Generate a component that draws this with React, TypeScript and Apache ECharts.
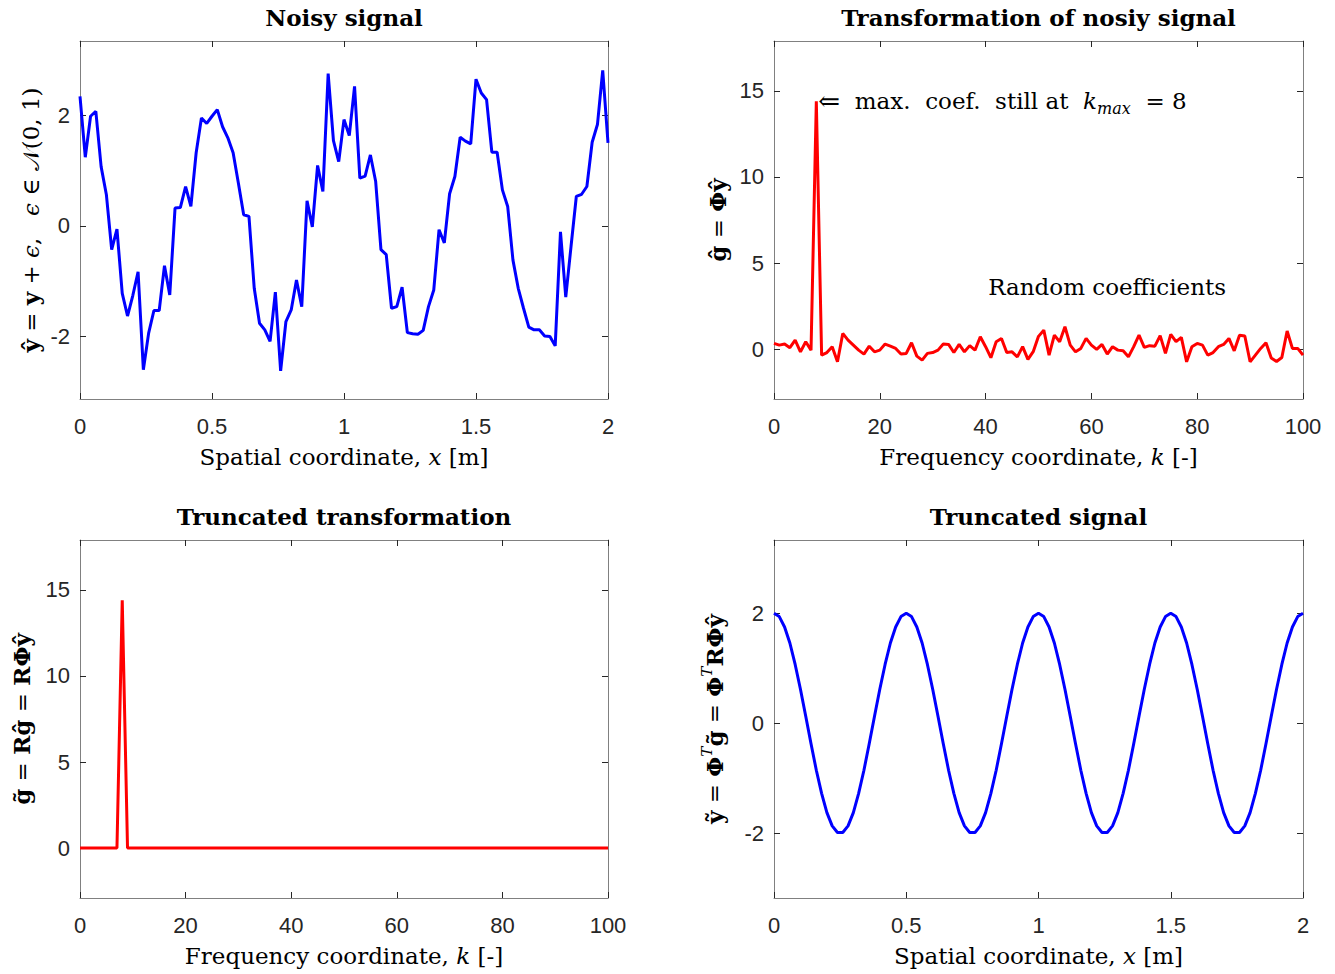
import React, { useEffect, useRef } from "react";
import * as echarts from "echarts";

// ---------- data ----------
// Noisy signal samples, x = 0 ... 2 (step 0.02)
const noisySignal = [
  2.34, 1.24, 1.98, 2.07, 1.07, 0.56, -0.43, -0.06, -1.22, -1.63,
  -1.26, -0.83, -2.6, -1.94, -1.53, -1.53, -0.72, -1.25, 0.32, 0.33,
  0.71, 0.35, 1.32, 1.95, 1.85, 1.98, 2.1, 1.79, 1.59, 1.32,
  0.77, 0.2, 0.17, -1.13, -1.76, -1.88, -2.09, -1.2, -2.62, -1.73,
  -1.52, -0.98, -1.46, 0.45, -0.02, 1.09, 0.62, 2.75, 1.54, 1.16,
  1.92, 1.63, 2.52, 0.86, 0.9, 1.28, 0.8, -0.43, -0.52, -1.49,
  -1.46, -1.11, -1.93, -1.95, -1.96, -1.89, -1.46, -1.16, -0.07, -0.31,
  0.58, 0.89, 1.6, 1.53, 1.48, 2.65, 2.4, 2.28, 1.33, 1.33,
  0.65, 0.35, -0.62, -1.13, -1.49, -1.83, -1.88, -1.88, -1.99, -2.0,
  -2.17, -0.11, -1.29, -0.37, 0.53, 0.57, 0.71, 1.51, 1.83, 2.81, 1.5,
];

// Transformation coefficients, k = 0 ... 100
const coefficients = [
  0.33, 0.23, 0.29, 0.08, 0.52, -0.16, 0.43, -0.06, 14.4, -0.35,
  -0.2, 0.14, -0.74, 0.91, 0.52, 0.23, -0.06, -0.29, 0.17, -0.16,
  -0.06, 0.29, 0.17, 0.04, -0.29, -0.25, 0.37, -0.41, -0.64, -0.25,
  -0.2, -0.06, 0.29, 0.27, -0.2, 0.27, -0.16, 0.2, -0.06, 0.72,
  0.14, -0.5, 0.43, 0.62, -0.2, -0.16, -0.45, 0.14, -0.6, -0.15,
  0.74, 1.1, -0.35, 0.81, 0.43, 1.3, 0.23, -0.16, 0.04, 0.62,
  0.23, -0.02, 0.27, -0.29, 0.14, -0.06, -0.1, -0.45, 0.14, 0.81,
  0.1, 0.2, 0.17, 0.78, -0.25, 0.85, 0.43, 0.68, -0.74, 0.14,
  0.33, 0.23, -0.35, -0.2, 0.14, 0.27, 0.62, -0.1, 0.81, 0.76,
  -0.74, -0.35, 0.04, 0.37, -0.52, -0.72, -0.49, 1.05, 0.04, 0.04, -0.35,
];

// Truncated coefficients, k = 0 ... 100
const truncatedCoefficients = [
  0, 0, 0, 0, 0, 0, 0, 0, 14.4, 0,
  0, 0, 0, 0, 0, 0, 0, 0, 0, 0,
  0, 0, 0, 0, 0, 0, 0, 0, 0, 0,
  0, 0, 0, 0, 0, 0, 0, 0, 0, 0,
  0, 0, 0, 0, 0, 0, 0, 0, 0, 0,
  0, 0, 0, 0, 0, 0, 0, 0, 0, 0,
  0, 0, 0, 0, 0, 0, 0, 0, 0, 0,
  0, 0, 0, 0, 0, 0, 0, 0, 0, 0,
  0, 0, 0, 0, 0, 0, 0, 0, 0, 0,
  0, 0, 0, 0, 0, 0, 0, 0, 0, 0, 0,
];

// Truncated (reconstructed) signal, x = 0 ... 2 (step 0.02)
const truncatedSignal = [
  2, 1.94, 1.75, 1.46, 1.07, 0.62, 0.13, -0.37, -0.85, -1.27,
  -1.62, -1.86, -1.98, -1.98, -1.86, -1.62, -1.27, -0.85, -0.37, 0.13,
  0.62, 1.07, 1.46, 1.75, 1.94,
  2, 1.94, 1.75, 1.46, 1.07, 0.62, 0.13, -0.37, -0.85, -1.27,
  -1.62, -1.86, -1.98, -1.98, -1.86, -1.62, -1.27, -0.85, -0.37, 0.13,
  0.62, 1.07, 1.46, 1.75, 1.94,
  2, 1.94, 1.75, 1.46, 1.07, 0.62, 0.13, -0.37, -0.85, -1.27,
  -1.62, -1.86, -1.98, -1.98, -1.86, -1.62, -1.27, -0.85, -0.37, 0.13,
  0.62, 1.07, 1.46, 1.75, 1.94,
  2, 1.94, 1.75, 1.46, 1.07, 0.62, 0.13, -0.37, -0.85, -1.27,
  -1.62, -1.86, -1.98, -1.98, -1.86, -1.62, -1.27, -0.85, -0.37, 0.13,
  0.62, 1.07, 1.46, 1.75, 1.94,
  2,
];

const signalTicks = [-2, 0, 2];
const coefTicks = [0, 5, 10, 15];
const spatialStep = 0.02;

const titles = [
  "Noisy signal",
  "Transformation of nosiy signal",
  "Truncated transformation",
  "Truncated signal",
];

const peakAnnotation = { k: 8, value: 14.4 };
const randomAnnotation = { k: 40.3, value: 3.6 };

// ---------- styling ----------
const SERIF = "DejaVu Serif";
const SANS = "Liberation Sans";
const AX_COLOR = "#808080";
const TICK_COLOR = "#262626";
const NAME_SIZE = 23;

const rich = {
  b: { fontFamily: SERIF, fontSize: NAME_SIZE, fontWeight: "bold", color: "#000" },
  i: { fontFamily: SERIF, fontSize: NAME_SIZE, fontStyle: "italic", color: "#000" },
  arr: { fontFamily: SERIF, fontSize: 26, color: "#000" },
  sup: { fontFamily: SERIF, fontSize: 15, fontStyle: "italic", color: "#000", verticalAlign: "top", lineHeight: 30 },
  sub: { fontFamily: SERIF, fontSize: 16, fontStyle: "italic", color: "#000", verticalAlign: "bottom", lineHeight: 30 },
};

const nameStyle = {
  fontFamily: SERIF,
  fontSize: NAME_SIZE,
  color: "#000",
  rich,
};

function xAxes(gi: number, min: number, max: number, interval: number, name: string) {
  const common = {
    gridIndex: gi,
    type: "value",
    min,
    max,
    interval,
    splitLine: { show: false },
    axisLine: { show: true, onZero: false, lineStyle: { color: AX_COLOR, width: 1 } },
    axisTick: { show: true, inside: true, length: 6, lineStyle: { color: TICK_COLOR, width: 1 } },
  };
  return [
    {
      ...common,
      position: "bottom",
      axisLabel: { fontFamily: SANS, fontSize: 22, color: TICK_COLOR, margin: 16 },
      name,
      nameLocation: "middle",
      nameGap: 46,
      nameTextStyle: nameStyle,
    },
    { ...common, position: "top", axisLabel: { show: false } },
  ];
}

function yAxes(gi: number, min: number, max: number, ticks: number[], name: string, nameGap: number) {
  const common = {
    gridIndex: gi,
    type: "value",
    min,
    max,
    splitLine: { show: false },
    axisLine: { show: true, onZero: false, lineStyle: { color: AX_COLOR, width: 1 } },
    axisTick: { show: true, inside: true, length: 6, customValues: ticks, lineStyle: { color: TICK_COLOR, width: 1 } },
  };
  return [
    {
      ...common,
      position: "left",
      axisLabel: { fontFamily: SANS, fontSize: 22, color: TICK_COLOR, margin: 10, customValues: ticks },
      name,
      nameLocation: "middle",
      nameRotate: 90,
      nameGap,
      nameTextStyle: nameStyle,
    },
    { ...common, position: "right", axisLabel: { show: false, customValues: ticks } },
  ];
}

const grids = [
  { left: 80, top: 41, width: 528, height: 358 },
  { left: 774, top: 41, width: 529, height: 358 },
  { left: 80, top: 540, width: 528, height: 358 },
  { left: 774, top: 540, width: 529, height: 358 },
];

export default function App() {
  const ref = useRef<HTMLDivElement>(null);

  useEffect(() => {
    if (!ref.current) return;
    const chart = echarts.init(ref.current, undefined, { renderer: "svg" });

    const spatialData = (vals: number[]) => vals.map((v, i) => [i * spatialStep, v]);
    const freqData = (vals: number[]) => vals.map((v, k) => [k, v]);

    const xAxis = [
      ...xAxes(0, 0, 2, 0.5, "Spatial coordinate, {i|x} [m]"),
      ...xAxes(1, 0, 100, 20, "Frequency coordinate, {i|k} [-]"),
      ...xAxes(2, 0, 100, 20, "Frequency coordinate, {i|k} [-]"),
      ...xAxes(3, 0, 2, 0.5, "Spatial coordinate, {i|x} [m]"),
    ];
    const yAxis = [
      ...yAxes(0, -3.13, 3.34, signalTicks, "{b|ŷ} = {b|y} + {i|ϵ},   {i|ϵ} ∈ 𝒩(0, 1)", 38),
      ...yAxes(1, -2.9, 17.9, coefTicks, "{b|ĝ} = {b|Φŷ}", 45),
      ...yAxes(2, -2.9, 17.9, coefTicks, "{b|g̃} = {b|Rĝ} = {b|RΦŷ}", 47),
      ...yAxes(3, -3.17, 3.33, signalTicks, "{b|ỹ} = {b|Φ}{sup|T}{b|g̃} = {b|Φ}{sup|T}{b|RΦŷ}", 45),
    ];

    const line = (idx: number, data: number[][], color: string) => ({
      type: "line",
      xAxisIndex: idx * 2,
      yAxisIndex: idx * 2,
      data,
      showSymbol: false,
      symbol: "none",
      lineStyle: { color, width: 3 },
      silent: true,
    });

    const textPoint = (idx: number, pt: number[], text: string, distance: number) => ({
      type: "scatter",
      xAxisIndex: idx * 2,
      yAxisIndex: idx * 2,
      symbol: "circle",
      symbolSize: 2,
      itemStyle: { color: "rgba(0,0,0,0)" },
      data: [pt],
      silent: true,
      z: 10,
      labelLayout: { hideOverlap: false },
      label: {
        show: true,
        position: "right",
        distance,
        formatter: text,
        fontFamily: SERIF,
        fontSize: NAME_SIZE,
        color: "#000",
        opacity: 1,
        rich,
      },
    });

    chart.setOption({
      animation: false,
      backgroundColor: "#fff",
      grid: grids,
      xAxis,
      yAxis,
      series: [
        line(0, spatialData(noisySignal), "#0000ff"),
        line(1, freqData(coefficients), "#ff0000"),
        line(2, freqData(truncatedCoefficients), "#ff0000"),
        line(3, spatialData(truncatedSignal), "#0000ff"),
        textPoint(
          1,
          [peakAnnotation.k, peakAnnotation.value],
          "{arr|⇐}  max.  coef.  still at  {i|k}{sub|max}  = 8",
          1
        ),
        textPoint(1, [randomAnnotation.k, randomAnnotation.value], "Random coefficients", 0),
      ],
      graphic: grids.map((g, i) => ({
        type: "text",
        x: g.left + g.width / 2,
        y: g.top - 24,
        style: {
          text: titles[i],
          fontFamily: SERIF,
          fontSize: 23,
          fontWeight: "bold",
          fill: "#000",
          textAlign: "center",
          textVerticalAlign: "middle",
        },
      })),
    });

    return () => chart.dispose();
  }, []);

  return (
    <div
      ref={ref}
      style={{ position: "absolute", left: 0, top: 0, width: 1335, height: 974, background: "#fff" }}
    />
  );
}
